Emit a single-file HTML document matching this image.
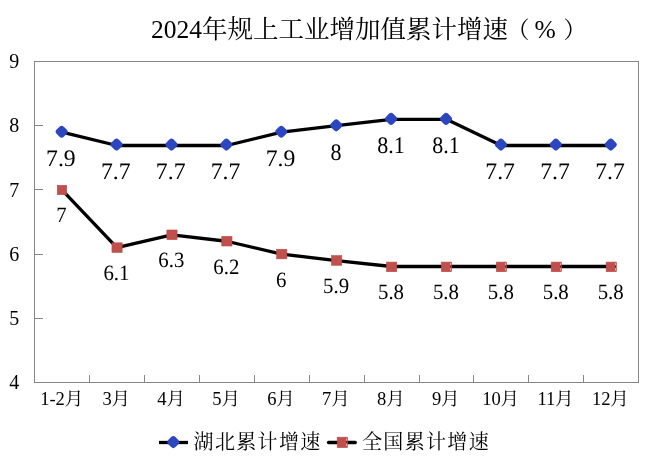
<!DOCTYPE html>
<html lang="zh-CN"><head><meta charset="utf-8"><title>2024年规上工业增加值累计增速（%）</title>
<style>html,body{margin:0;padding:0;background:#fff;}body{width:651px;height:469px;overflow:hidden;}svg{display:block;}text{font-family:"Liberation Serif", "Noto Serif CJK SC", serif;fill:#000;font-weight:400;}.t{font-size:25.5px;}.ax{font-size:20px;}.xl{font-size:18.6px;letter-spacing:-0.15px;}.dl{font-size:23.7px;text-rendering:geometricPrecision;}.dn{font-size:21.8px;text-rendering:geometricPrecision;}.lg{font-size:20px;letter-spacing:1.33px;}</style></head><body>
<svg width="651" height="469" viewBox="0 0 651 469">
<rect x="0" y="0" width="651" height="469" fill="#ffffff"/>
<text class="t" y="37.8"><tspan x="151" y="37.8">2024年规上工业增加值累计增速</tspan><tspan x="506.4" y="38" style="font-size:23px">（</tspan><tspan x="534.4" y="37.8">%</tspan><tspan x="563.6" y="38" style="font-size:23px">）</tspan></text>
<rect x="34.5" y="61.5" width="604.0" height="321.0" fill="none" stroke="#868686" stroke-width="1"/>
<text class="ax" x="14.3" y="388.8" text-anchor="middle">4</text>
<line x1="34.5" y1="318.5" x2="43.0" y2="318.5" stroke="#868686" stroke-width="1"/>
<text class="ax" x="14.3" y="324.6" text-anchor="middle">5</text>
<line x1="34.5" y1="254.5" x2="43.0" y2="254.5" stroke="#868686" stroke-width="1"/>
<text class="ax" x="14.3" y="261.2" text-anchor="middle">6</text>
<line x1="34.5" y1="189.5" x2="43.0" y2="189.5" stroke="#868686" stroke-width="1"/>
<text class="ax" x="14.3" y="197" text-anchor="middle">7</text>
<line x1="34.5" y1="125.5" x2="43.0" y2="125.5" stroke="#868686" stroke-width="1"/>
<text class="ax" x="14.3" y="132" text-anchor="middle">8</text>
<text class="ax" x="14.3" y="67.8" text-anchor="middle">9</text>
<line x1="89.5" y1="382.5" x2="89.5" y2="375.0" stroke="#868686" stroke-width="1"/>
<line x1="144.5" y1="382.5" x2="144.5" y2="375.0" stroke="#868686" stroke-width="1"/>
<line x1="199.5" y1="382.5" x2="199.5" y2="375.0" stroke="#868686" stroke-width="1"/>
<line x1="254.5" y1="382.5" x2="254.5" y2="375.0" stroke="#868686" stroke-width="1"/>
<line x1="309.5" y1="382.5" x2="309.5" y2="375.0" stroke="#868686" stroke-width="1"/>
<line x1="364.5" y1="382.5" x2="364.5" y2="375.0" stroke="#868686" stroke-width="1"/>
<line x1="419.5" y1="382.5" x2="419.5" y2="375.0" stroke="#868686" stroke-width="1"/>
<line x1="473.5" y1="382.5" x2="473.5" y2="375.0" stroke="#868686" stroke-width="1"/>
<line x1="528.5" y1="382.5" x2="528.5" y2="375.0" stroke="#868686" stroke-width="1"/>
<line x1="583.5" y1="382.5" x2="583.5" y2="375.0" stroke="#868686" stroke-width="1"/>
<text class="xl" x="61.75" y="405" text-anchor="middle">1-2月</text>
<text class="xl" x="116.26" y="405" text-anchor="middle">3月</text>
<text class="xl" x="171.17" y="405" text-anchor="middle">4月</text>
<text class="xl" x="226.08" y="405" text-anchor="middle">5月</text>
<text class="xl" x="280.99" y="405" text-anchor="middle">6月</text>
<text class="xl" x="335.9" y="405" text-anchor="middle">7月</text>
<text class="xl" x="390.81" y="405" text-anchor="middle">8月</text>
<text class="xl" x="445.72" y="405" text-anchor="middle">9月</text>
<text class="xl" x="500.63" y="405" text-anchor="middle">10月</text>
<text class="xl" x="555.54" y="405" text-anchor="middle">11月</text>
<text class="xl" x="610.45" y="405" text-anchor="middle">12月</text>
<polyline points="61.95,132.12 116.86,145.5 171.77,145.5 226.68,145.5 281.59,132.12 336.5,125.7 391.41,119.28 446.32,119.28 501.23,145.5 556.14,145.5 611.05,145.5" fill="none" stroke="#000" stroke-width="3.3" stroke-linejoin="round" stroke-linecap="round"/>
<polyline points="61.95,189.9 116.86,247.68 171.77,234.84 226.68,241.26 281.59,254.1 336.5,260.52 391.41,266.5 446.32,266.5 501.23,266.5 556.14,266.5 611.05,266.5" fill="none" stroke="#000" stroke-width="3.3" stroke-linejoin="round" stroke-linecap="round"/>
<rect x="56.6" y="126.67" width="10.1" height="10.1" rx="3.0" ry="3.0" fill="#2b46c0" transform="rotate(45 61.65 131.72)"/>
<rect x="111.51" y="139.51" width="10.1" height="10.1" rx="3.0" ry="3.0" fill="#2b46c0" transform="rotate(45 116.56 144.56)"/>
<rect x="166.42" y="139.51" width="10.1" height="10.1" rx="3.0" ry="3.0" fill="#2b46c0" transform="rotate(45 171.47 144.56)"/>
<rect x="221.33" y="139.51" width="10.1" height="10.1" rx="3.0" ry="3.0" fill="#2b46c0" transform="rotate(45 226.38 144.56)"/>
<rect x="276.24" y="126.67" width="10.1" height="10.1" rx="3.0" ry="3.0" fill="#2b46c0" transform="rotate(45 281.29 131.72)"/>
<rect x="331.15" y="120.25" width="10.1" height="10.1" rx="3.0" ry="3.0" fill="#2b46c0" transform="rotate(45 336.2 125.3)"/>
<rect x="386.06" y="113.83" width="10.1" height="10.1" rx="3.0" ry="3.0" fill="#2b46c0" transform="rotate(45 391.11 118.88)"/>
<rect x="440.97" y="113.83" width="10.1" height="10.1" rx="3.0" ry="3.0" fill="#2b46c0" transform="rotate(45 446.02 118.88)"/>
<rect x="495.88" y="139.51" width="10.1" height="10.1" rx="3.0" ry="3.0" fill="#2b46c0" transform="rotate(45 500.93 144.56)"/>
<rect x="550.79" y="139.51" width="10.1" height="10.1" rx="3.0" ry="3.0" fill="#2b46c0" transform="rotate(45 555.84 144.56)"/>
<rect x="605.7" y="139.51" width="10.1" height="10.1" rx="3.0" ry="3.0" fill="#2b46c0" transform="rotate(45 610.75 144.56)"/>
<rect x="57.3" y="185.3" width="9.4" height="9.4" fill="#c0504d" stroke="#bd4a47" stroke-width="0.6"/>
<rect x="111.96" y="242.83" width="10.2" height="9.6" fill="#c0504d" stroke="#bd4a47" stroke-width="0.6"/>
<rect x="166.87" y="229.99" width="10.2" height="9.6" fill="#c0504d" stroke="#bd4a47" stroke-width="0.6"/>
<rect x="221.78" y="236.41" width="10.2" height="9.6" fill="#c0504d" stroke="#bd4a47" stroke-width="0.6"/>
<rect x="276.69" y="249.25" width="10.2" height="9.6" fill="#c0504d" stroke="#bd4a47" stroke-width="0.6"/>
<rect x="331.6" y="255.67" width="10.2" height="9.6" fill="#c0504d" stroke="#bd4a47" stroke-width="0.6"/>
<rect x="386.51" y="262.09" width="10.2" height="9.6" fill="#c0504d" stroke="#bd4a47" stroke-width="0.6"/>
<rect x="441.42" y="262.09" width="10.2" height="9.6" fill="#c0504d" stroke="#bd4a47" stroke-width="0.6"/><rect x="450" y="262.99" width="1" height="7.6" fill="#e0a5a3"/><rect x="450" y="265.39" width="1" height="2.4" fill="#5e2322"/>
<rect x="496.33" y="262.09" width="10.2" height="9.6" fill="#c0504d" stroke="#bd4a47" stroke-width="0.6"/><rect x="505" y="262.99" width="1" height="7.6" fill="#e0a5a3"/><rect x="505" y="265.39" width="1" height="2.4" fill="#5e2322"/>
<rect x="551.24" y="262.09" width="10.2" height="9.6" fill="#c0504d" stroke="#bd4a47" stroke-width="0.6"/><rect x="560" y="262.99" width="1" height="7.6" fill="#e0a5a3"/><rect x="560" y="265.39" width="1" height="2.4" fill="#5e2322"/>
<rect x="606.15" y="262.09" width="10.2" height="9.6" fill="#c0504d" stroke="#bd4a47" stroke-width="0.6"/><rect x="615" y="262.99" width="1" height="7.6" fill="#e0a5a3"/><rect x="615" y="265.39" width="1" height="2.4" fill="#5e2322"/>
<text class="dl" x="60.85" y="166.22" text-anchor="middle">7.9</text>
<text class="dl" x="115.76" y="179.06" text-anchor="middle">7.7</text>
<text class="dl" x="170.67" y="179.06" text-anchor="middle">7.7</text>
<text class="dl" x="225.58" y="179.06" text-anchor="middle">7.7</text>
<text class="dl" x="280.49" y="166.22" text-anchor="middle">7.9</text>
<text class="dl" transform="translate(336.1 159.8) scale(0.93 1)" text-anchor="middle">8</text>
<text class="dl" transform="translate(391.01 153.38) scale(0.93 1)" text-anchor="middle">8.1</text>
<text class="dl" transform="translate(445.92 153.38) scale(0.93 1)" text-anchor="middle">8.1</text>
<text class="dl" x="500.13" y="179.06" text-anchor="middle">7.7</text>
<text class="dl" x="555.04" y="179.06" text-anchor="middle">7.7</text>
<text class="dl" x="609.95" y="179.06" text-anchor="middle">7.7</text>
<text class="dn" transform="translate(61.55 222.3) scale(0.955 1)" text-anchor="middle">7</text>
<text class="dn" transform="translate(116.46 280.08) scale(0.955 1)" text-anchor="middle">6.1</text>
<text class="dn" transform="translate(171.37 267.24) scale(0.955 1)" text-anchor="middle">6.3</text>
<text class="dn" transform="translate(226.28 273.66) scale(0.955 1)" text-anchor="middle">6.2</text>
<text class="dn" transform="translate(281.19 286.5) scale(0.955 1)" text-anchor="middle">6</text>
<text class="dn" transform="translate(336.1 292.92) scale(0.955 1)" text-anchor="middle">5.9</text>
<text class="dn" transform="translate(391.01 299.34) scale(0.955 1)" text-anchor="middle">5.8</text>
<text class="dn" transform="translate(445.92 299.34) scale(0.955 1)" text-anchor="middle">5.8</text>
<text class="dn" transform="translate(500.83 299.34) scale(0.955 1)" text-anchor="middle">5.8</text>
<text class="dn" transform="translate(555.74 299.34) scale(0.955 1)" text-anchor="middle">5.8</text>
<text class="dn" transform="translate(610.65 299.34) scale(0.955 1)" text-anchor="middle">5.8</text>
<line x1="159" y1="442.5" x2="188" y2="442.5" stroke="#000" stroke-width="3.3"/>
<rect x="168.25" y="437.05" width="10.1" height="10.1" rx="3.0" ry="3.0" fill="#2b46c0" transform="rotate(45 173.3 442.1)"/>
<text class="lg" x="193.6" y="449.4">湖北累计增速</text>
<line x1="328.5" y1="442.5" x2="355.3" y2="442.5" stroke="#000" stroke-width="3.3" stroke-linecap="round"/>
<rect x="337.2" y="437.2" width="10.4" height="10.4" fill="#c0504d" stroke="#bd4a47" stroke-width="0.6"/><rect x="346" y="438.5" width="1" height="7.6" fill="#e0a5a3"/><rect x="346" y="440.9" width="1" height="2.4" fill="#5e2322"/>
<text class="lg" x="362.0" y="449.4">全国累计增速</text>
</svg></body></html>
